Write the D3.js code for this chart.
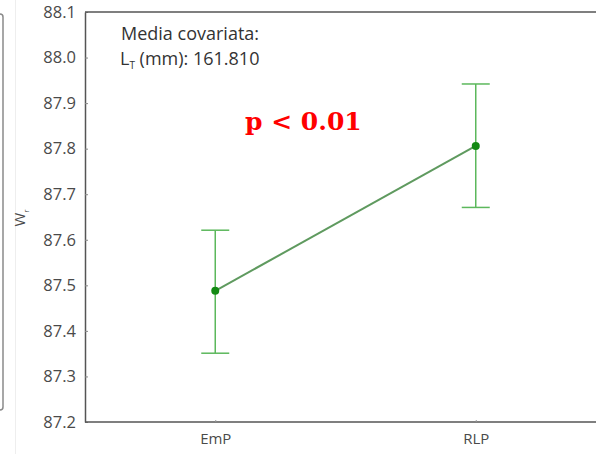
<!DOCTYPE html>
<html>
<head>
<meta charset="utf-8">
<script src="https://cdn.jsdelivr.net/npm/d3@7"></script>
<style>
  html, body { margin: 0; padding: 0; background: #fff; }
  svg { display: block; }
</style>
</head>
<body>
<div id="chart"></div>
<script>
// data
const groups = ['EmP', 'RLP'];
const means = [87.488, 87.806];
const upper = [87.621, 87.942];
const lower = [87.351, 87.671];
const yTicks = [87.2, 87.3, 87.4, 87.5, 87.6, 87.7, 87.8, 87.9, 88.0, 88.1];

const width = 596;
const height = 454;
const margin = { top: 12, right: -10, bottom: 32, left: 85 };

const textColor = '#4a4a4a';
const axisColor = '#555';
const barColor = '#5cb85c';
const lineColor = '#5f9a5f';
const dotColor = '#138a13';

const svg = d3.select('#chart')
  .append('svg')
  .attr('width', width)
  .attr('height', height)
  .style('background', '#fff');

const x = d3.scalePoint()
  .domain(groups)
  .range([margin.left, width - margin.right])
  .padding(0.5);

const y = d3.scaleLinear()
  .domain([87.2, 88.1])
  .range([height - margin.bottom, margin.top]);

/* neighbouring panel edge on the far left */
svg.append('rect')
  .attr('x', -20)
  .attr('y', 14)
  .attr('width', 23)
  .attr('height', 396)
  .attr('rx', 3)
  .attr('fill', 'none')
  .attr('stroke', '#8a8a8a')
  .attr('stroke-width', 1.5);

svg.append('line')
  .attr('x1', 15.5).attr('x2', 15.5)
  .attr('y1', 0).attr('y2', height)
  .attr('stroke', '#eee');

/* Y axis */
const yAxis = svg.append('g')
  .attr('transform', `translate(${margin.left},0)`)
  .call(d3.axisLeft(y).tickValues(yTicks).tickFormat(d3.format('.1f')).tickSizeInner(-3).tickSizeOuter(0).tickPadding(9));

yAxis.select('.domain').attr('stroke', axisColor).attr('stroke-width', 1.5);
yAxis.selectAll('.tick line').attr('stroke', '#888');
yAxis.selectAll('text')
  .attr('fill', textColor)
  .attr('font-family', 'Open Sans, sans-serif')
  .attr('font-size', 16.5);

/* top frame */
svg.append('line')
  .attr('x1', margin.left).attr('x2', width)
  .attr('y1', y(88.1)).attr('y2', y(88.1))
  .attr('stroke', axisColor).attr('stroke-width', 1.5);

/* X axis */
const xAxis = svg.append('g')
  .attr('transform', `translate(0,${y(87.2)})`)
  .call(d3.axisBottom(x).tickSizeInner(-2).tickSizeOuter(0).tickPadding(11));

xAxis.select('.domain').attr('d', `M${margin.left},0H${width}`).attr('stroke', axisColor).attr('stroke-width', 1.5);
xAxis.selectAll('.tick line').attr('stroke', '#999');
xAxis.selectAll('text')
  .attr('fill', textColor)
  .attr('font-family', 'Open Sans, sans-serif')
  .attr('font-size', 15);

/* Y label */
const yLabel = svg.append('text')
  .attr('transform', 'translate(25,218) rotate(-90)')
  .attr('text-anchor', 'middle')
  .attr('fill', textColor)
  .attr('font-family', 'Open Sans, sans-serif')
  .attr('font-size', 15);
yLabel.append('tspan').text('W');
yLabel.append('tspan').attr('dy', 4).attr('font-size', 8).text('r');

/* covariate note */
const note = svg.append('g')
  .attr('fill', '#333')
  .attr('font-family', 'Open Sans, sans-serif')
  .attr('font-size', 18);
note.append('text').attr('x', 121).attr('y', 40).text('Media covariata:');
const lt = note.append('text').attr('x', 120).attr('y', 65);
lt.append('tspan').text('L');
lt.append('tspan').attr('dy', 4).attr('font-size', 10).text('T');
lt.append('tspan').attr('dy', -4).text(' (mm): 161.810');

/* error bars */
const cap = 14;
groups.forEach((g, i) => {
  const cx = x(g);
  const bar = svg.append('g').attr('stroke', barColor).attr('stroke-width', 1.5);
  bar.append('line').attr('x1', cx).attr('x2', cx).attr('y1', y(upper[i])).attr('y2', y(lower[i]));
  bar.append('line').attr('x1', cx - cap).attr('x2', cx + cap).attr('y1', y(upper[i])).attr('y2', y(upper[i]));
  bar.append('line').attr('x1', cx - cap).attr('x2', cx + cap).attr('y1', y(lower[i])).attr('y2', y(lower[i]));
});

/* mean line */
const line = d3.line()
  .x((d, i) => x(groups[i]))
  .y((d) => y(d));

svg.append('path')
  .datum(means)
  .attr('fill', 'none')
  .attr('stroke', lineColor)
  .attr('stroke-width', 2)
  .attr('d', line);

svg.selectAll('circle.mean')
  .data(means)
  .join('circle')
  .attr('class', 'mean')
  .attr('cx', (d, i) => x(groups[i]))
  .attr('cy', (d) => y(d))
  .attr('r', 4)
  .attr('fill', dotColor);

/* significance */
svg.append('text')
  .attr('x', 245)
  .attr('y', 130)
  .attr('fill', '#ff0000')
  .attr('font-family', 'DejaVu Serif, serif')
  .attr('font-weight', 'bold')
  .attr('font-size', 25)
  .text('p < 0.01');
</script>
</body>
</html>
